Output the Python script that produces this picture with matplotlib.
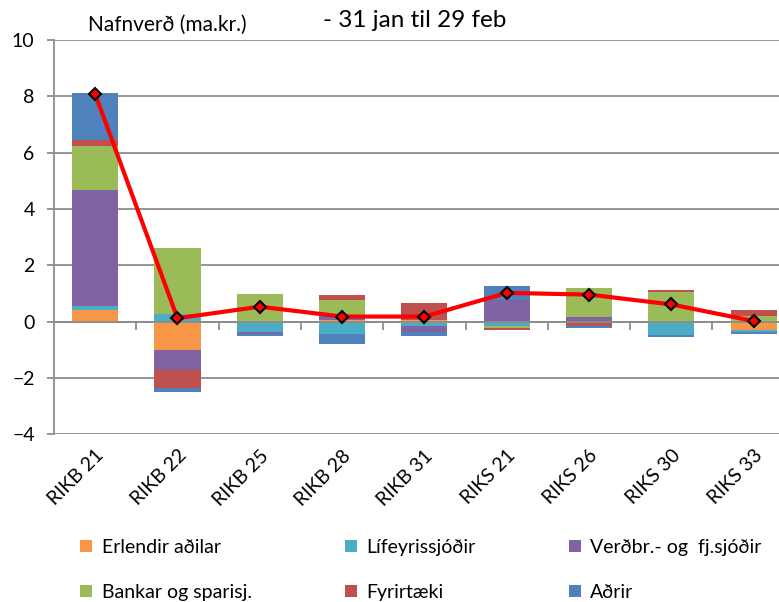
import numpy as np
import matplotlib
matplotlib.use("Agg")
import matplotlib.pyplot as plt
from matplotlib.patches import Patch

plt.rcParams['font.family'] = ['Lato', 'DejaVu Sans']

# Nettó viðskipti eftir fjárfestahópum, ma.kr.
flokkar = ["RIKB 21", "RIKB 22", "RIKB 25", "RIKB 28", "RIKB 31",
           "RIKS 21", "RIKS 26", "RIKS 30", "RIKS 33"]
erlendir = [0.42, -1.01, 0.00, 0.05, 0.07, 0.00, -0.02, 0.00, -0.31]
lifeyris = [0.13, 0.26, -0.38, -0.44, -0.14, -0.14, 0.00, -0.46, -0.05]
verdbr = [4.13, -0.72, -0.05, 0.14, -0.22, 0.78, 0.18, 0.00, 0.00]
bankar = [1.57, 2.35, 0.98, 0.56, 0.00, -0.07, 1.00, 1.04, 0.19]
fyrirtaeki = [0.19, -0.63, 0.00, 0.21, 0.60, -0.07, -0.13, 0.07, 0.21]
adrir = [1.66, -0.15, -0.09, -0.36, -0.16, 0.48, -0.08, -0.07, -0.09]
samtals = [8.08, 0.12, 0.53, 0.18, 0.18, 1.02, 0.96, 0.61, 0.02]

hopar = ["Erlendir aðilar", "Lífeyrissjóðir", "Verðbr.- og  fj.sjóðir",
         "Bankar og sparisj.", "Fyrirtæki", "Aðrir"]
litir = ["#F79646", "#4BACC6", "#8064A2", "#9BBB59", "#C0504D", "#4F81BD"]

fig = plt.figure(figsize=(7.79, 6.02), dpi=100)
ax = fig.add_axes([0.0693, 0.2786, 0.951, 0.655])

x = np.arange(len(flokkar))
pos_base = np.zeros(len(flokkar))
neg_base = np.zeros(len(flokkar))
for vals, col in zip([erlendir, lifeyris, verdbr, bankar, fyrirtaeki, adrir], litir):
    v = np.array(vals)
    p = np.where(v > 0, v, 0)
    n = np.where(v < 0, v, 0)
    ax.bar(x, p, 0.56, bottom=pos_base, color=col, zorder=2)
    ax.bar(x, n, 0.56, bottom=neg_base, color=col, zorder=2)
    pos_base += p
    neg_base += n

ax.plot(x, samtals, color="#FF0000", lw=3, marker="D", markersize=6,
        markerfacecolor="#FF0000", markeredgecolor="black", markeredgewidth=1.5,
        zorder=4)

ax.set_xlim(-0.5, len(flokkar) - 0.5)
ax.set_ylim(-4, 10)
ax.set_yticks(np.arange(-4, 11, 2))
ax.yaxis.grid(True, color="#8C8C8C", lw=1.3, zorder=0)
ax.set_axisbelow(True)
ax.tick_params(axis="y", length=5, width=1.3, color="#8C8C8C", labelsize=14, pad=9)

for s in ["top", "right"]:
    ax.spines[s].set_visible(False)
ax.spines["left"].set_color("#8C8C8C")
ax.spines["left"].set_linewidth(1.3)

# lárétti ásinn liggur í núlli, merki á milli flokka
ax.spines["bottom"].set_position(("data", 0))
ax.spines["bottom"].set_color("#8C8C8C")
ax.spines["bottom"].set_linewidth(1.3)
ax.spines["bottom"].set_zorder(3)
ax.set_xticks(x + 0.5)
ax.tick_params(axis="x", length=6, width=1.3, color="#8C8C8C", direction="out",
               labelbottom=False)

sec = ax.secondary_xaxis("bottom")
sec.set_xticks(x)
sec.set_xticklabels(flokkar, rotation=45, ha="right", rotation_mode="anchor")
sec.tick_params(length=0, labelsize=14, pad=9)
sec.spines["bottom"].set_visible(False)

fig.text(0.113, 0.958, "Nafnverð (ma.kr.)", fontsize=15, va="center")
fig.text(0.532, 0.966, "- 31 jan til 29 feb", fontsize=17.5, ha="center", va="center")

# raðað svo að fyllist línu fyrir línu
order = [0, 3, 1, 4, 2, 5]
handles = [Patch(facecolor=litir[i]) for i in order]
labels = [hopar[i] for i in order]
fig.legend(handles, labels, ncol=3, loc="upper left", bbox_to_anchor=(0.103, 0.105),
           frameon=False, fontsize=14, handlelength=0.6, handleheight=0.6,
           handletextpad=0.5, columnspacing=4.8, labelspacing=1.45,
           borderaxespad=0, borderpad=0)

fig.savefig("out.png", dpi=100)
